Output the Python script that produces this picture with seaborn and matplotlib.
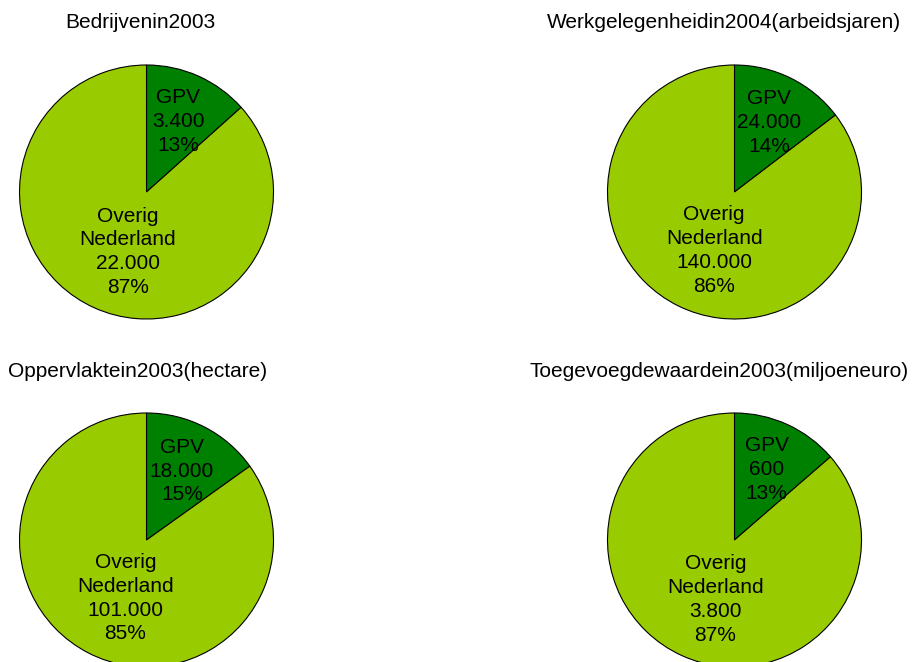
import matplotlib

matplotlib.use("Agg")
import matplotlib.pyplot as plt  # noqa: E402
import numpy as np  # noqa: E402
import seaborn as sns  # noqa: E402

# Data
TITLES = [
    "Bedrijvenin2003",
    "Werkgelegenheidin2004(arbeidsjaren)",
    "Oppervlaktein2003(hectare)",
    "Toegevoegdewaardein2003(miljoeneuro)",
]
SLICE_NAMES = ["GPV", "Overig\nNederland"]
GPV_VALUES = [3400, 24000, 18000, 600]
OTHER_VALUES = [22000, 140000, 101000, 3800]
GPV_AMOUNTS = ["3.400", "24.000", "18.000", "600"]
OTHER_AMOUNTS = ["22.000", "140.000", "101.000", "3.800"]
GPV_PCT = ["13%", "14%", "15%", "13%"]
OTHER_PCT = ["87%", "86%", "85%", "87%"]

COLORS = ["#008000", "#99CC00"]

W, H = 913, 662
RADIUS_PX = 127
# pie centres and title centres in pixels
PIE_CENTRES = [(146.5, 192), (734.5, 192), (146.5, 540), (734.5, 540)]
TITLE_CENTRES = [(140, 22), (724, 22), (138, 371), (719, 371)]
LABEL_DIST = [0.61, 0.515]

sns.set_style("white")
plt.rcParams["font.family"] = ["Liberation Sans", "DejaVu Sans"]

fig = plt.figure(figsize=(W / 100, H / 100), dpi=100)

for i, ((cx, cy), (tx, ty)) in enumerate(zip(PIE_CENTRES, TITLE_CENTRES)):
    left = (cx - RADIUS_PX) / W
    bottom = (H - cy - RADIUS_PX) / H
    ax = fig.add_axes([left, bottom, 2 * RADIUS_PX / W, 2 * RADIUS_PX / H])
    sizes = [GPV_VALUES[i], OTHER_VALUES[i]]
    labels = [
        f"{SLICE_NAMES[0]}\n{GPV_AMOUNTS[i]}\n{GPV_PCT[i]}",
        f"{SLICE_NAMES[1]}\n{OTHER_AMOUNTS[i]}\n{OTHER_PCT[i]}",
    ]
    wedges, texts = ax.pie(
        sizes,
        labels=labels,
        colors=COLORS,
        startangle=90,
        counterclock=False,
        radius=1,
        wedgeprops={"edgecolor": "black", "linewidth": 0.8},
        textprops={"fontsize": 15, "color": "black", "linespacing": 1.32},
    )
    for wedge, text, dist in zip(wedges, texts, LABEL_DIST):
        mid = np.deg2rad((wedge.theta1 + wedge.theta2) / 2)
        x, y = dist * np.cos(mid), dist * np.sin(mid)
        if dist < 0.6:
            x *= 0.7
        text.set_position((x, y))
        text.set_ha("center")
        text.set_va("center")
        text.set_multialignment("center")
    ax.set_xlim(-1.0, 1.0)
    ax.set_ylim(-1.0, 1.0)
    ax.set_aspect("equal")
    ax.axis("off")
    fig.text(tx / W, 1 - ty / H, TITLES[i], ha="center", va="center",
             fontsize=15, color="black")

fig.savefig("out.png", dpi=100)
